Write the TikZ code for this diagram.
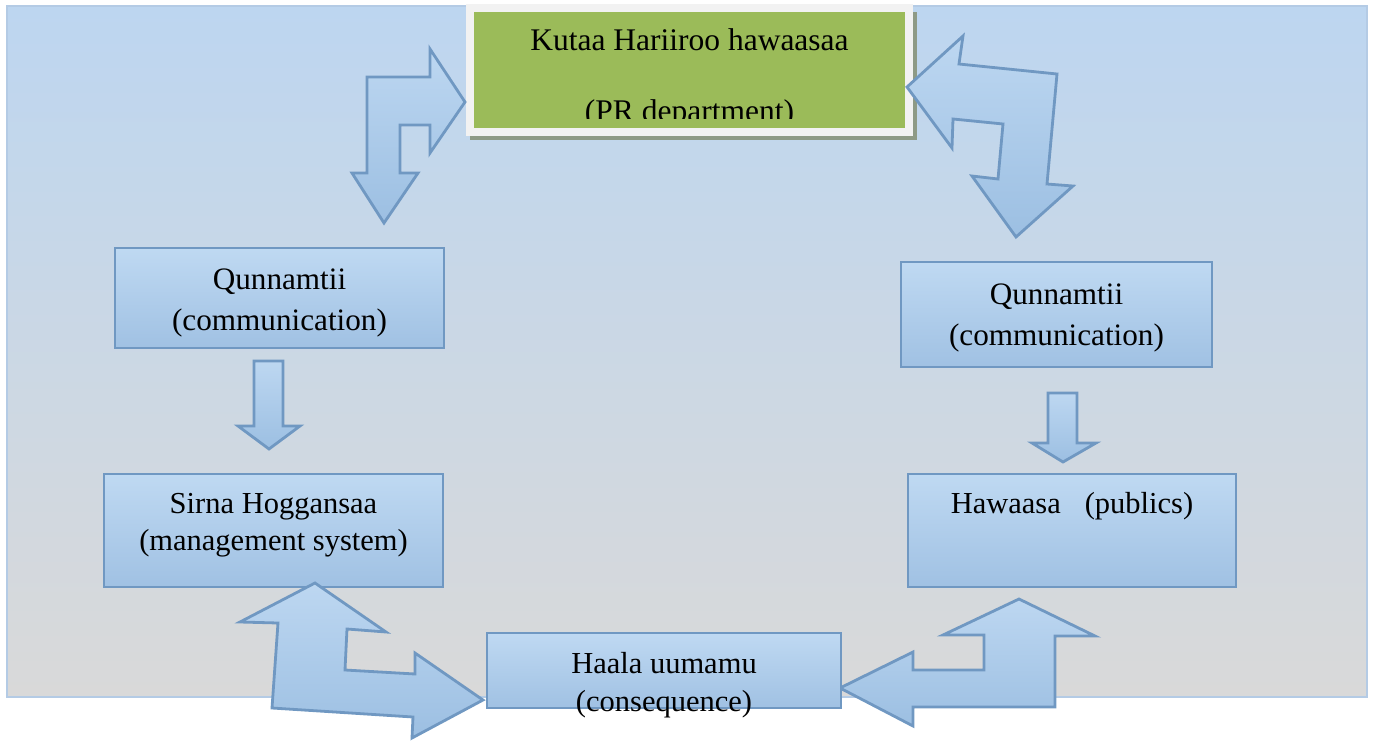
\documentclass[tikz,border=0pt]{standalone}
\usepackage{fontspec}
\setmainfont{Liberation Serif}
\definecolor{bgtop}{HTML}{BDD6F0}
\definecolor{bgbot}{HTML}{D9D9D9}
\definecolor{bgline}{HTML}{B4CBE5}
\definecolor{boxtop}{HTML}{BFD9F2}
\definecolor{boxbot}{HTML}{A0C1E3}
\definecolor{boxline}{HTML}{7098C2}
\definecolor{arrtop}{HTML}{BDD7F1}
\definecolor{arrbot}{HTML}{9CBFE2}
\definecolor{pgreen}{HTML}{9BBB59}
\definecolor{pframe}{HTML}{F2F2F2}
\definecolor{pshadow}{HTML}{8E9A86}
\begin{document}
\begin{tikzpicture}[x=1pt,y=-1pt,
  box/.style={draw=boxline, line width=2.8pt, top color=boxtop, bottom color=boxbot, inner sep=0pt},
  blockarrow/.style={draw=boxline, line width=2.8pt, top color=arrtop, bottom color=arrbot, line join=miter},
  label/.style={anchor=base, inner sep=0pt, font=\fontsize{30.5}{36}\selectfont},
  commlabel/.style={label, font=\fontsize{31.2}{36}\selectfont},
  toplabel/.style={anchor=base, inner sep=0pt, font=\fontsize{31.5}{38}\selectfont}]
\useasboundingbox (0,0) rectangle (1374,742);
% background panel
\shade[top color=bgtop, bottom color=bgbot] (7,6) rectangle (1367,697);
\draw[bgline, line width=2.8pt] (7,6) rectangle (1367,697);
% top green box
\fill[pshadow] (470,12) rectangle (917,140);
\node[draw=pframe, line width=8pt, fill=pgreen, minimum width=439, minimum height=124, inner sep=0pt] (pr) at (689.5,70) {};
\begin{scope}
\clip (474,12) rectangle (905,118);
\node[toplabel] (prt1) at (689.5,50) {Kutaa Hariiroo hawaasaa};
\node[toplabel] (prt2) at (689.5,121) {(PR department)};
\end{scope}
% top arrows
\draw[blockarrow] (367,77) -- (430,77) -- (430,49) -- (465,102) -- (430,153) -- (430,125) -- (400,125) -- (400,173) -- (418,173) -- (384,223) -- (352,173) -- (367,173) -- cycle;
\draw[blockarrow] (907,87) -- (963,36) -- (959,64) -- (1057,74) -- (1047,184) -- (1073,186) -- (1016,237) -- (972,176) -- (998,179) -- (1003,124) -- (953,119) -- (952,148) -- cycle;
% boxes
\node[box, minimum width=329, minimum height=100] (lc) at (279.5,298) {};
\node[commlabel] (lct1) at (279.5,289) {Qunnamtii};
\node[commlabel] (lct2) at (279.5,330) {(communication)};
\node[box, minimum width=311, minimum height=105] (rc) at (1056.5,314.5) {};
\node[commlabel] (rct1) at (1056.5,304) {Qunnamtii};
\node[commlabel] (rct2) at (1056.5,345) {(communication)};
% small arrows
\draw[blockarrow] (254,361) -- (283,361) -- (283,426) -- (300,426) -- (269,449) -- (238,426) -- (254,426) -- cycle;
\draw[blockarrow] (1048,393) -- (1077,393) -- (1077,443) -- (1096,443) -- (1063,462) -- (1032,443) -- (1048,443) -- cycle;
\node[box, minimum width=339, minimum height=113] (ms) at (273.5,530.5) {};
\node[label] (mst1) at (273.5,513) {Sirna Hoggansaa};
\node[label] (mst2) at (273.5,550) {(management system)};
\node[box, minimum width=328, minimum height=113] (pb) at (1072,530.5) {};
\node[label] (pbt) at (1072,513) {Hawaasa\hspace{24pt}(publics)};
% bottom arrows
\draw[blockarrow] (315,583) -- (386,632) -- (347,629) -- (345,670) -- (415,674) -- (415,653) -- (483,700) -- (412,738) -- (413,717) -- (272,708) -- (278,623) -- (240,622) -- cycle;
\draw[blockarrow] (840,688) -- (913,652) -- (913,670) -- (984,670) -- (984,635) -- (943,635) -- (1019,599) -- (1095,636) -- (1055,636) -- (1055,707) -- (913,707) -- (913,726) -- cycle;
\node[box, minimum width=354, minimum height=75] (cq) at (664,670.5) {};
\node[label] (cqt1) at (664,673) {Haala uumamu};
\node[label] (cqt2) at (664,711) {(consequence)};
\end{tikzpicture}
\end{document}
